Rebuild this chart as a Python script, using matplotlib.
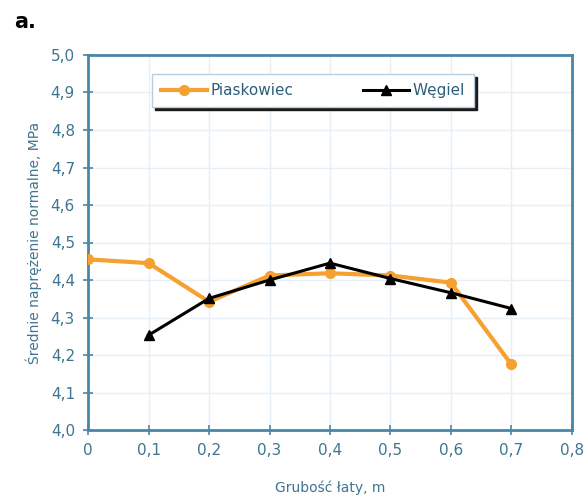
import matplotlib.pyplot as plt
import numpy as np

# grubość łaty [m] i średnie naprężenie normalne [MPa]
x_piaskowiec = [0.0, 0.1, 0.2, 0.3, 0.4, 0.5, 0.6, 0.7]
y_piaskowiec = [4.455, 4.445, 4.342, 4.412, 4.418, 4.412, 4.393, 4.175]

x_wegiel = [0.1, 0.2, 0.3, 0.4, 0.5, 0.6, 0.7]
y_wegiel = [4.253, 4.351, 4.400, 4.445, 4.404, 4.366, 4.324]

x_ticks = [0, 0.1, 0.2, 0.3, 0.4, 0.5, 0.6, 0.7, 0.8]
y_ticks = [4.0, 4.1, 4.2, 4.3, 4.4, 4.5, 4.6, 4.7, 4.8, 4.9, 5.0]

os_kolor = '#4a86a8'
tekst_kolor = '#3f7590'
pomarancz = '#f5a030'

fig = plt.figure(figsize=(5.84, 5.00), dpi=100)
ax = fig.add_axes([0.151, 0.14, 0.828, 0.75])

ax.plot(x_piaskowiec, y_piaskowiec, color=pomarancz, lw=3, marker='o',
        ms=7, label='Piaskowiec', zorder=3)
ax.plot(x_wegiel, y_wegiel, color='black', lw=2.2, marker='^',
        ms=7, label='Węgiel', zorder=4)

ax.set_xlim(0, 0.8)
ax.set_ylim(4.0, 5.0)
ax.set_xticks(x_ticks)
ax.set_yticks(y_ticks)
ax.set_xticklabels([('%g' % v).replace('.', ',') for v in x_ticks])
ax.set_yticklabels([('%.1f' % v).replace('.', ',') for v in y_ticks])

for s in ax.spines.values():
    s.set_color(os_kolor)
    s.set_linewidth(2)
ax.tick_params(direction='inout', length=7, width=1.2, color=os_kolor,
               labelcolor=tekst_kolor, labelsize=11, pad=6)
ax.grid(True, color='#e6eff6', lw=1)
ax.set_axisbelow(True)

ax.set_xlabel('Grubość łaty, m', color=tekst_kolor, fontsize=10, labelpad=16)
ax.set_ylabel('Średnie naprężenie normalne, MPa', color=tekst_kolor,
              fontsize=10, labelpad=6)

leg = ax.legend(loc='upper left', bbox_to_anchor=(0.132, 0.95), ncol=2,
                frameon=True, fancybox=False,
                shadow={'color': '#1a1a1a', 'alpha': 1.0}, fontsize=11,
                handlelength=3.0, columnspacing=4.6, borderpad=0.6,
                handletextpad=0.2, borderaxespad=0)
leg.get_frame().set_edgecolor('#b7cfe0')
leg.get_frame().set_linewidth(1)
for t in leg.get_texts():
    t.set_color('#2e5f7a')

fig.text(0.025, 0.945, 'a.', fontsize=15, fontweight='bold', color='black')

plt.savefig('out.png', dpi=100)
